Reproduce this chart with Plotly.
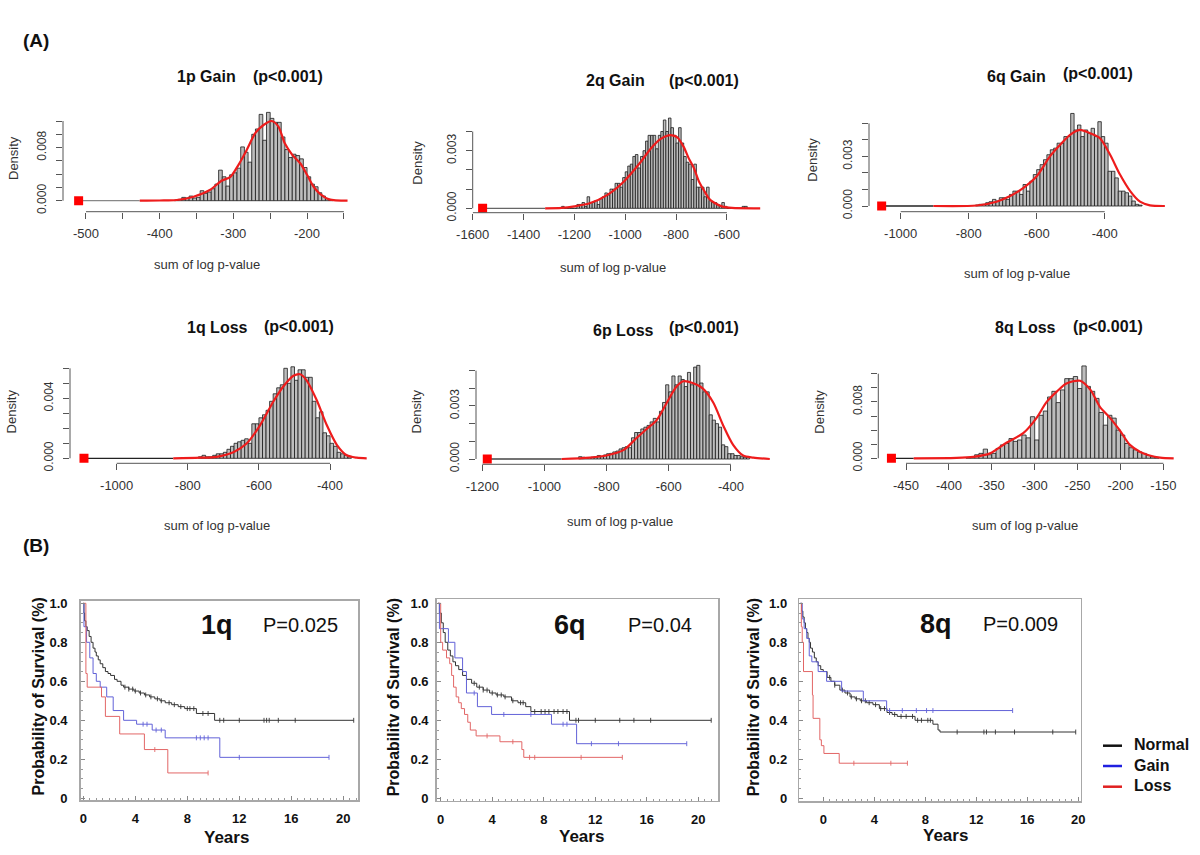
import numpy as np
import plotly.graph_objects as go

W, H = 1200, 855
FONT = "Liberation Sans, Arial, sans-serif"


def fx(p):
    return p / W


def fy(p):
    return 1 - p / H


# ===================== (A) permutation histograms : data =====================
# 1p Gain
g1p_start, g1p_width = -380, 5
g1p_density = [0.0001, 0.0002, 0.0005, 0.0004, 0.0007, 0.0004, 0.0005, 0.0015, 0.0011, 0.0013,
               0.0018, 0.0025, 0.0046, 0.0036, 0.0022, 0.0039, 0.0042, 0.0049, 0.0081, 0.0073,
               0.0058, 0.0100, 0.0108, 0.0130, 0.0091, 0.0133, 0.0124, 0.0118, 0.0118, 0.0096,
               0.0077, 0.0065, 0.0070, 0.0068, 0.0063, 0.0050, 0.0036, 0.0025, 0.0021, 0.0012,
               0.0007, 0.0003, 0.0001]
g1p_kde_x = [-427, -400, -377, -354, -332, -316, -304, -293, -282, -270, -259, -248, -239, -230,
             -220, -209, -200, -191, -182, -170, -145]
g1p_kde_y = [0, 0.00003, 0.0001, 0.0006, 0.0016, 0.0030, 0.0036, 0.0054, 0.0076, 0.0102, 0.0114,
             0.0120, 0.0112, 0.0086, 0.0069, 0.0056, 0.0039, 0.0021, 0.0010, 0.0002, 0]
g1p_observed = -510
g1p_xticks = [-500, -450, -400, -350, -300, -250, -200, -150]
g1p_xlabels = ["-500", "", "-400", "", "-300", "", "-200", ""]
g1p_yticks = [0, 0.002, 0.004, 0.006, 0.008, 0.010, 0.012]
g1p_ylabels = ["0.000", "", "", "", "0.008", "", ""]

# 2q Gain
g2q_start, g2q_width = -1250, 10
g2q_density = [0.0001, 0, 0, 0, 0, 0, 0.0002, 0.0002, 0.0003, 0.0001,
               0.0006, 0.0003, 0.0003, 0.0004, 0.0002, 0.0005, 0.0006, 0.0008, 0.0007, 0.0010,
               0.0010, 0.0013, 0.0013, 0.0011, 0.0016, 0.0019, 0.0022, 0.0023, 0.0027, 0.0028,
               0.0021, 0.0027, 0.0030, 0.0035, 0.0038, 0.0038, 0.0038, 0.0031, 0.0038, 0.0040,
               0.0046, 0.0040, 0.0047, 0.0042, 0.0038, 0.0034, 0.0042, 0.0034, 0.0027, 0.0024,
               0.0023, 0.0015, 0.0023, 0.0011, 0.0011, 0.0011, 0.0006, 0.0011, 0.0004, 0.0003,
               0.0003, 0.0002, 0.00015, 0.0003, 0.0001, 0, 0, 0, 0, 0,
               0, 0.0001, 0.0001]
g2q_kde_x = [-1315, -1250, -1200, -1140, -1070, -1005, -940, -900, -862, -830, -815, -795, -770,
             -750, -730, -710, -691, -670, -651, -620, -580, -469]
g2q_kde_y = [0, 0.00002, 0.0001, 0.00026, 0.0007, 0.0014, 0.0024, 0.0031, 0.0036, 0.0038, 0.0038,
             0.0037, 0.0032, 0.0026, 0.0021, 0.0014, 0.00095, 0.0005, 0.0003, 0.0001, 0.00002, 0]
g2q_observed = -1561
g2q_xticks = [-1600, -1400, -1200, -1000, -800, -600]
g2q_xlabels = ["-1600", "-1400", "-1200", "-1000", "-800", "-600"]
g2q_yticks = [0, 0.001, 0.002, 0.003, 0.004]
g2q_ylabels = ["0.000", "", "", "0.003", ""]

# 6q Gain
g6q_start, g6q_width = -780, 10
g6q_density = [0.00006, 0.0001, 0.0001, 0.0002, 0.00026, 0.0004, 0.0003, 0.0005, 0.0005, 0.0004,
               0.0007, 0.0009, 0.0009, 0.0007, 0.0013, 0.0009, 0.0015, 0.0019, 0.0022, 0.0025,
               0.0028, 0.0031, 0.0034, 0.0035, 0.0038, 0.0038, 0.0042, 0.0042, 0.0056, 0.0046,
               0.0049, 0.0042, 0.0046, 0.0044, 0.0047, 0.0042, 0.0051, 0.0042, 0.0038, 0.0021,
               0.0021, 0.0017, 0.0009, 0.0009, 0.0008, 0.0006, 0.0003, 0.0001, 0.00005]
g6q_kde_x = [-904, -776, -718, -678, -639, -600, -561, -531, -502, -473, -443, -414, -384, -355,
             -325, -296, -267, -223]
g6q_kde_y = [0, 0.00003, 0.00026, 0.0006, 0.0011, 0.0018, 0.0030, 0.0037, 0.0043, 0.0046, 0.0044,
             0.0041, 0.0031, 0.0019, 0.0009, 0.00026, 0.00004, 0]
g6q_observed = -1056
g6q_xticks = [-1000, -800, -600, -400]
g6q_xlabels = ["-1000", "-800", "-600", "-400"]
g6q_yticks = [0, 0.001, 0.002, 0.003, 0.004, 0.005]
g6q_ylabels = ["0.000", "", "", "0.003", "", ""]

# 1q Loss
l1q_start, l1q_width = -770, 10
l1q_density = [0.0001, 0.0002, 0.0001, 0.0001, 0.0002, 0.0003, 0.0003, 0.0004, 0.0006, 0.0008,
               0.0010, 0.0011, 0.0012, 0.0013, 0.0010, 0.0023, 0.0023, 0.0027, 0.0029, 0.0032,
               0.0038, 0.0043, 0.0047, 0.0049, 0.0060, 0.0050, 0.0061, 0.0052, 0.0059, 0.0059,
               0.0054, 0.0054, 0.0038, 0.0027, 0.0031, 0.0017, 0.0015, 0.0010, 0.0008, 0.0004,
               0.0003, 0.0002, 0.0001]
l1q_kde_x = [-841, -766, -719, -672, -634, -597, -559, -531, -503, -484, -466, -438, -409, -381,
             -353, -325, -297]
l1q_kde_y = [0, 0.00004, 0.0001, 0.0004, 0.0010, 0.0022, 0.0038, 0.0048, 0.0055, 0.0056, 0.0052,
             0.0039, 0.0022, 0.0009, 0.0002, 0.00004, 0]
l1q_observed = -1092
l1q_xticks = [-1000, -800, -600, -400]
l1q_xlabels = ["-1000", "-800", "-600", "-400"]
l1q_yticks = [0, 0.001, 0.002, 0.003, 0.004, 0.005, 0.006]
l1q_ylabels = ["0.000", "", "", "", "0.004", "", ""]

# 6p Loss
l6p_start, l6p_width = -890, 10
l6p_density = [0.00013, 0.0001, 0.00008, 0.00008, 0.0001, 0.00013, 0.0002, 0.00013, 0.00023, 0.0003,
               0.00032, 0.0004, 0.00045, 0.00057, 0.00064, 0.0007, 0.00064, 0.0012, 0.0015, 0.0015,
               0.0017, 0.0018, 0.0019, 0.0021, 0.0023, 0.0021, 0.0027, 0.0032, 0.0042, 0.0038,
               0.0047, 0.0042, 0.0047, 0.0045, 0.0041, 0.0049, 0.0042, 0.0052, 0.0053, 0.0043,
               0.0038, 0.0038, 0.0025, 0.0022, 0.0020, 0.0018, 0.0008, 0.0007, 0.0003, 0.0003,
               0.0002, 0.0002, 0.00013, 0.0001, 0.0001]
l6p_kde_x = [-945, -854, -800, -746, -703, -671, -639, -606, -575, -553, -523, -491, -457, -425,
             -393, -361, -328, -275]
l6p_kde_y = [0, 0.00008, 0.0002, 0.0005, 0.0012, 0.0017, 0.0022, 0.0032, 0.0041, 0.0044, 0.0043,
             0.0040, 0.0032, 0.0019, 0.0008, 0.0002, 0.00008, 0]
l6p_observed = -1184
l6p_xticks = [-1200, -1000, -800, -600, -400]
l6p_xlabels = ["-1200", "-1000", "-800", "-600", "-400"]
l6p_yticks = [0, 0.001, 0.002, 0.003, 0.004, 0.005]
l6p_ylabels = ["0.000", "", "", "0.003", "", ""]

# 8q Loss
l8q_start, l8q_width = -380, 5
l8q_density = [0.0001, 0.0002, 0.0005, 0.0007, 0.0013, 0.0005, 0.0007, 0.0014, 0.0019, 0.0021,
               0.0028, 0.0024, 0.0026, 0.0033, 0.0029, 0.0059, 0.0026, 0.0061, 0.0067, 0.0087,
               0.0095, 0.0079, 0.0097, 0.0113, 0.0113, 0.0116, 0.0099, 0.0131, 0.0102, 0.0095,
               0.0085, 0.0065, 0.0047, 0.0061, 0.0057, 0.0040, 0.0033, 0.0021, 0.0015, 0.0012,
               0.0009, 0.0007, 0.0004, 0.0002, 0.0001]
l8q_kde_x = [-441, -391, -371.5, -352, -333, -313, -298, -286, -274, -263, -247, -235, -224, -212,
             -201, -189, -177, -166, -154, -138]
l8q_kde_y = [0, 0.00005, 0.0002, 0.0007, 0.0022, 0.0036, 0.0057, 0.0080, 0.0095, 0.0106, 0.0110,
             0.0097, 0.0073, 0.0057, 0.0040, 0.0019, 0.0009, 0.0004, 0.0001, 0]
l8q_observed = -467
l8q_xticks = [-450, -400, -350, -300, -250, -200, -150]
l8q_xlabels = ["-450", "-400", "-350", "-300", "-250", "-200", "-150"]
l8q_yticks = [0, 0.002, 0.004, 0.006, 0.008, 0.010, 0.012]
l8q_ylabels = ["0.000", "", "", "", "0.008", "", ""]

hist_titles = ["1p Gain", "2q Gain", "6q Gain", "1q Loss", "6p Loss", "8q Loss"]
hist_pvals = ["(p<0.001)"] * 6

# ===================== (B) Kaplan-Meier curves : data =====================
# 1q
km1q_normal_t = [0, 0.05, 0.1, 0.2, 0.3, 0.45, 0.6, 0.75, 0.9, 1.0, 1.15, 1.3, 1.5, 1.7, 1.9, 2.1,
                 2.4, 2.6, 2.9, 3.1, 3.5, 3.9, 4.3, 4.7, 5.1, 5.5, 5.9, 6.3, 6.8, 7.3, 7.8, 8.7,
                 10.1, 20.8]
km1q_normal_s = [1.0, 0.95, 0.91, 0.88, 0.86, 0.83, 0.80, 0.77, 0.75, 0.73, 0.71, 0.69, 0.67, 0.65,
                 0.64, 0.63, 0.61, 0.60, 0.58, 0.57, 0.56, 0.55, 0.54, 0.53, 0.52, 0.51, 0.50, 0.49,
                 0.48, 0.47, 0.46, 0.435, 0.40, 0.40]
km1q_normal_cens = [3.2, 3.5, 3.8, 4.0, 4.4, 4.8, 5.2, 5.7, 6.0, 6.6, 7.0, 7.5, 8.0, 8.2, 8.5, 9.2,
                    9.6, 10.5, 10.8, 12.0, 13.9, 14.1, 14.3, 15.0, 16.3, 20.8]
km1q_gain_t = [0, 0.05, 0.25, 0.5, 0.75, 1.0, 1.3, 1.8, 2.3, 3.1, 4.1, 5.3, 6.3, 10.5, 18.9]
km1q_gain_s = [1.0, 0.88, 0.80, 0.72, 0.64, 0.60, 0.57, 0.52, 0.45, 0.40, 0.38, 0.35, 0.31, 0.21,
               0.21]
km1q_gain_cens = [4.6, 4.9, 5.6, 6.0, 8.7, 9.0, 9.3, 9.6, 12.0, 18.9]
km1q_loss_t = [0, 0.2, 0.3, 1.4, 1.7, 2.8, 4.7, 6.5, 9.6]
km1q_loss_s = [1.0, 0.64, 0.57, 0.52, 0.42, 0.33, 0.25, 0.13, 0.13]
km1q_loss_cens = [5.5, 9.6]

# 6q
km6q_normal_t = [-0.2, -0.1, 0.05, 0.2, 0.35, 0.55, 0.75, 0.95, 1.15, 1.4, 1.7, 2.0, 2.4, 2.8, 3.3,
                 3.8, 4.3, 4.9, 5.5, 6.0, 6.6, 7.0, 10.0, 21.0]
km6q_normal_s = [1.0, 0.95, 0.90, 0.85, 0.80, 0.76, 0.73, 0.70, 0.68, 0.66, 0.63, 0.61, 0.59, 0.57,
                 0.555, 0.54, 0.53, 0.52, 0.50, 0.49, 0.47, 0.445, 0.40, 0.40]
km6q_normal_cens = [2.6, 3.0, 3.3, 3.6, 4.0, 4.4, 4.7, 5.0, 5.6, 6.2, 6.4, 7.3, 7.8, 8.1, 8.4, 8.8,
                    9.1, 9.5, 9.8, 10.5, 10.7, 12.0, 13.9, 15.0, 16.3, 21.0]
km6q_gain_t = [-0.2, -0.1, 0.6, 1.1, 1.7, 2.0, 2.85, 3.95, 8.6, 10.55, 19.1]
km6q_gain_s = [1.0, 0.87, 0.80, 0.72, 0.65, 0.54, 0.47, 0.43, 0.38, 0.28, 0.28]
km6q_gain_cens = [2.6, 4.9, 7.0, 9.5, 9.8, 11.7, 13.8, 19.1]
km6q_loss_t = [-0.2, 0.0, 0.15, 0.45, 0.7, 0.85, 1.0, 1.2, 1.4, 1.6, 1.85, 2.1, 2.3, 2.75, 4.6,
               6.3, 6.45, 14.1]
km6q_loss_s = [1.0, 0.80, 0.76, 0.72, 0.69, 0.63, 0.57, 0.52, 0.49, 0.46, 0.43, 0.39, 0.35, 0.32,
               0.29, 0.25, 0.21, 0.21]
km6q_loss_cens = [3.6, 5.6, 6.9, 7.3, 10.9, 14.1]

# 8q
km8q_normal_t = [-1.78, -1.7, -1.6, -1.5, -1.4, -1.3, -1.2, -1.1, -1.0, -0.85, -0.7, -0.55, -0.4,
                 -0.2, 0.0, 0.3, 0.6, 0.9, 1.3, 1.7, 2.1, 2.5, 2.9, 3.4, 3.9, 4.4, 5.0, 5.4, 5.8,
                 7.2, 8.6, 9.0, 9.15, 19.8]
km8q_normal_s = [1.0, 0.96, 0.93, 0.90, 0.87, 0.85, 0.82, 0.80, 0.77, 0.75, 0.72, 0.70, 0.68, 0.66,
                 0.65, 0.62, 0.60, 0.58, 0.555, 0.54, 0.52, 0.51, 0.50, 0.49, 0.48, 0.46, 0.44,
                 0.43, 0.42, 0.40, 0.38, 0.35, 0.34, 0.34]
km8q_normal_cens = [0.5, 0.9, 1.5, 1.9, 2.2, 2.6, 3.0, 3.3, 3.6, 4.1, 4.5, 4.8, 5.2, 5.6, 6.1, 6.5,
                    7.0, 7.4, 7.7, 8.2, 8.4, 10.5, 12.6, 12.8, 13.5, 15.0, 18.0, 19.8]
km8q_gain_t = [-1.78, -1.65, -1.5, -1.3, -1.1, -0.9, -0.4, 0.26, 1.44, 3.14, 4.97, 14.85]
km8q_gain_s = [1.0, 0.92, 0.87, 0.82, 0.73, 0.70, 0.65, 0.60, 0.55, 0.50, 0.45, 0.45]
km8q_gain_cens = [5.2, 6.2, 7.3, 8.1, 8.6, 14.85]
km8q_loss_t = [-1.78, -1.72, -1.65, -1.55, -0.85, -0.8, -0.27, -0.15, 0.05, 1.25, 6.6]
km8q_loss_s = [1.0, 0.88, 0.80, 0.65, 0.53, 0.41, 0.30, 0.27, 0.23, 0.18, 0.18]
km8q_loss_cens = [2.4, 5.3, 6.6]

km_labels = ["1q", "6q", "8q"]
km_pvalues = ["P=0.025", "P=0.04", "P=0.009"]
km_ytitles = ["Probability of Survival (%)", "Probabilitv of Survival (%)",
              "Probabilitv of Survival (%)"]
km_xticks = [0, 4, 8, 12, 16, 20]
km_yticks = [0, 0.2, 0.4, 0.6, 0.8, 1.0]
km_ylabels = ["0", "0.2", "0.4", "0.6", "0.8", "1.0"]
group_names = ["Normal", "Gain", "Loss"]

# ===================== layout specs (pixels) =====================
hist_data = [
    (g1p_start, g1p_width, g1p_density, g1p_kde_x, g1p_kde_y, g1p_observed,
     g1p_xticks, g1p_xlabels, g1p_yticks, g1p_ylabels),
    (g2q_start, g2q_width, g2q_density, g2q_kde_x, g2q_kde_y, g2q_observed,
     g2q_xticks, g2q_xlabels, g2q_yticks, g2q_ylabels),
    (g6q_start, g6q_width, g6q_density, g6q_kde_x, g6q_kde_y, g6q_observed,
     g6q_xticks, g6q_xlabels, g6q_yticks, g6q_ylabels),
    (l1q_start, l1q_width, l1q_density, l1q_kde_x, l1q_kde_y, l1q_observed,
     l1q_xticks, l1q_xlabels, l1q_yticks, l1q_ylabels),
    (l6p_start, l6p_width, l6p_density, l6p_kde_x, l6p_kde_y, l6p_observed,
     l6p_xticks, l6p_xlabels, l6p_yticks, l6p_ylabels),
    (l8q_start, l8q_width, l8q_density, l8q_kde_x, l8q_kde_y, l8q_observed,
     l8q_xticks, l8q_xlabels, l8q_yticks, l8q_ylabels),
]
hist_geom = [
    dict(dx=(63, 351), dy=(108, 211.7), xr=(-531.2, -140.3), yr=(-0.001657, 0.01396),
         title=(207, 77), pv=(287.5, 77), dens=(13, 158), xl=(207, 264), base="#888888"),
    dict(dx=(472.7, 763), dy=(112, 212.7), xr=(-1600, -458), yr=(-0.000229, 0.005016),
         title=(615, 81), pv=(703.5, 80), dens=(416.7, 163), xl=(613, 268), base="#666666"),
    dict(dx=(869, 1168), dy=(110, 211.7), xr=(-1093.2, -213.8), yr=(-0.000345, 0.005808),
         title=(1016.5, 76), pv=(1097.5, 74), dens=(811.7, 160), xl=(1016.7, 273), base="#222222"),
    dict(dx=(70, 370), dy=(362, 463.3), xr=(-1131.3, -287.7), yr=(-0.000333, 0.00642),
         title=(217.5, 328), pv=(299, 326), dens=(11.7, 411.7), xl=(216.7, 525), base="#222222"),
    dict(dx=(476, 773), dy=(362, 464.3), xr=(-1220.3, -264.7), yr=(-0.0003, 0.00549),
         title=(623.5, 330), pv=(703.5, 327), dens=(416.7, 411.7), xl=(620, 521.7), base="#444444"),
    dict(dx=(878.3, 1176), dy=(362, 463.3), xr=(-482.3, -135.3), yr=(-0.00071, 0.01366),
         title=(1025.5, 328), pv=(1107.5, 326), dens=(820, 411.7), xl=(1025, 525), base="#222222"),
]

km_data = [
    [(km1q_normal_t, km1q_normal_s, km1q_normal_cens),
     (km1q_gain_t, km1q_gain_s, km1q_gain_cens),
     (km1q_loss_t, km1q_loss_s, km1q_loss_cens)],
    [(km6q_normal_t, km6q_normal_s, km6q_normal_cens),
     (km6q_gain_t, km6q_gain_s, km6q_gain_cens),
     (km6q_loss_t, km6q_loss_s, km6q_loss_cens)],
    [(km8q_normal_t, km8q_normal_s, km8q_normal_cens),
     (km8q_gain_t, km8q_gain_s, km8q_gain_cens),
     (km8q_loss_t, km8q_loss_s, km8q_loss_cens)],
]
km_geom = [
    dict(dx=(80.7, 358), dy=(600.7, 800), xr=(-0.2, 21.13), yr=(-0.0087, 1.0133),
         lab=(216.5, 625), pv=(300.5, 625), yt=(37.5, 697), xt=(226, 837), ystand=9),
    dict(dx=(436.7, 718.3), dy=(599.3, 800.7), xr=(-0.31, 21.55), yr=(-0.0123, 1.0205),
         lab=(570, 625), pv=(660, 625), yt=(393.3, 697), xt=(581, 836.5), ystand=4),
    dict(dx=(799.3, 1080.7), dy=(599.3, 801), xr=(-1.88, 20.19), yr=(-0.0138, 1.0205),
         lab=(936, 624), pv=(1020.5, 624), yt=(753.3, 697), xt=(945, 835), ystand=8),
]
curve_colors = ["#333333", "#6262d8", "#e26666"]
legend_colors = ["#111111", "#2020e0", "#e02020"]

fig = go.Figure()
layout = dict(template="none", width=W, height=H, autosize=False,
              margin=dict(l=0, r=0, t=0, b=0, pad=0),
              paper_bgcolor="white", plot_bgcolor="white", showlegend=False,
              hovermode=False, font=dict(family=FONT, color="#222"))
shapes = []
annotations = []


def ann(text, x, y, size, bold=False, angle=0, color="#111", xanchor="center"):
    annotations.append(dict(
        text=text, x=fx(x), y=fy(y), xref="paper", yref="paper", showarrow=False,
        xanchor=xanchor, yanchor="middle", textangle=angle,
        font=dict(family=FONT, size=size, color=color, weight="bold" if bold else "normal")))


# ---------- histograms ----------
for i, (data, g) in enumerate(zip(hist_data, hist_geom)):
    start, bw, dens, kx, ky, obs, xt, xtl, yt, ytl = data
    k = i + 1
    xa, ya = ("x" if k == 1 else f"x{k}"), ("y" if k == 1 else f"y{k}")
    centers = start + bw * (np.arange(len(dens)) + 0.5)
    fig.add_trace(go.Bar(x=centers, y=dens, width=bw, xaxis=xa, yaxis=ya,
                         marker=dict(color="#bdbdbd", line=dict(color="#1a1a1a", width=0.8))))
    fig.add_trace(go.Scatter(x=[obs, kx[0]], y=[0, 0], mode="lines", xaxis=xa, yaxis=ya,
                             line=dict(color=g["base"], width=1.3)))
    fig.add_trace(go.Scatter(x=kx, y=ky, mode="lines", xaxis=xa, yaxis=ya,
                             line=dict(color="#ee1c1c", width=2.2, shape="spline", smoothing=0.8)))
    fig.add_trace(go.Scatter(x=[obs], y=[0], mode="markers", xaxis=xa, yaxis=ya,
                             marker=dict(symbol="square", size=9, color="#ff0000")))
    axkey = "" if k == 1 else str(k)
    layout["xaxis" + axkey] = dict(
        domain=[fx(g["dx"][0]), fx(g["dx"][1])], range=list(g["xr"]), anchor=ya,
        automargin=False, fixedrange=True,
        showgrid=False, zeroline=False, showline=False, ticks="outside", ticklen=6,
        tickcolor="#555", tickwidth=1, tickmode="array", tickvals=xt, ticktext=xtl,
        tickfont=dict(family=FONT, size=13, color="#333"), ticklabelstandoff=4)
    layout["yaxis" + axkey] = dict(
        domain=[fy(g["dy"][1]), fy(g["dy"][0])], range=list(g["yr"]), anchor=xa,
        automargin=False, fixedrange=True,
        showgrid=False, zeroline=False, showline=False, ticks="outside", ticklen=6,
        tickcolor="#555", tickwidth=1, tickmode="array", tickvals=yt, ticktext=ytl,
        tickangle=-90, tickfont=dict(family=FONT, size=12, color="#333"), ticklabelstandoff=5)
    shapes.append(dict(type="line", xref=xa, yref=ya + " domain", x0=xt[0], x1=xt[-1], y0=0, y1=0,
                       line=dict(color="#555", width=1)))
    shapes.append(dict(type="line", xref=xa + " domain", yref=ya, x0=0, x1=0, y0=yt[0], y1=yt[-1],
                       line=dict(color="#555", width=1)))
    ann("<b>" + hist_titles[i] + "</b>", g["title"][0], g["title"][1], 16)
    ann("<b>" + hist_pvals[i] + "</b>", g["pv"][0], g["pv"][1], 16)
    ann("Density", g["dens"][0], g["dens"][1], 13, angle=-90, color="#333")
    ann("sum of log p-value", g["xl"][0], g["xl"][1], 13, color="#333")


def surv_at(times, surv, t):
    idx = np.searchsorted(np.asarray(times), t, side="right") - 1
    return np.asarray(surv)[np.clip(idx, 0, len(surv) - 1)]


# ---------- Kaplan-Meier panels ----------
for j, (panel, g) in enumerate(zip(km_data, km_geom)):
    k = 7 + j
    xa, ya = f"x{k}", f"y{k}"
    for (t, s, c), col in zip(panel, curve_colors):
        fig.add_trace(go.Scatter(x=t, y=s, mode="lines", xaxis=xa, yaxis=ya,
                                 line=dict(color=col, width=1, shape="hv")))
        fig.add_trace(go.Scatter(x=c, y=surv_at(t, s, c), mode="markers", xaxis=xa, yaxis=ya,
                                 marker=dict(symbol="line-ns", size=3.5,
                                             line=dict(color=col, width=0.9))))
    layout[f"xaxis{k}"] = dict(
        domain=[fx(g["dx"][0]), fx(g["dx"][1])], range=list(g["xr"]), anchor=ya,
        automargin=False, fixedrange=True,
        showgrid=False, zeroline=False, showline=True, mirror=True, linecolor="#a8a8a8",
        linewidth=1.5, ticks="inside", ticklen=4, tickcolor="#888", tickmode="array",
        tickvals=km_xticks, ticktext=[str(v) for v in km_xticks],
        tickfont=dict(family=FONT, size=13, color="#111", weight="bold"), ticklabelstandoff=6,
        minor=dict(ticks="inside", ticklen=2, tickcolor="#999",
                   tickvals=list(np.arange(0, 21.01, 0.5))))
    layout[f"yaxis{k}"] = dict(
        domain=[fy(g["dy"][1]), fy(g["dy"][0])], range=list(g["yr"]), anchor=xa,
        automargin=False, fixedrange=True,
        showgrid=False, zeroline=False, showline=True, mirror=True, linecolor="#a8a8a8",
        linewidth=1.5, ticks="inside", ticklen=4, tickcolor="#888", tickmode="array",
        tickvals=km_yticks, ticktext=km_ylabels,
        tickfont=dict(family=FONT, size=13, color="#111", weight="bold"),
        ticklabelstandoff=g["ystand"],
        minor=dict(ticks="inside", ticklen=2, tickcolor="#999",
                   tickvals=list(np.arange(0, 1.001, 0.05))))
    ann("<b>" + km_labels[j] + "</b>", g["lab"][0], g["lab"][1], 27)
    ann(km_pvalues[j], g["pv"][0], g["pv"][1], 20)
    ann("<b>" + km_ytitles[j] + "</b>", g["yt"][0], g["yt"][1], 16, angle=-90)
    ann("<b>Years</b>", g["xt"][0], g["xt"][1], 17)

# legend (drawn manually, short line samples)
for name, col, ly in zip(group_names, legend_colors, [745.7, 766, 786.7]):
    shapes.append(dict(type="line", xref="paper", yref="paper", x0=fx(1103), x1=fx(1122),
                       y0=fy(ly), y1=fy(ly), line=dict(color=col, width=2.5)))
    ann("<b>" + name + "</b>", 1132, ly - 1, 16, xanchor="left")

ann("<b>(A)</b>", 36, 40, 19)
ann("<b>(B)</b>", 36, 545, 19)

layout["shapes"] = shapes
layout["annotations"] = annotations
fig.update_layout(**layout)
fig.write_html("out.html", config={"responsive": False, "displayModeBar": False,
                                   "staticPlot": True},
               post_script="document.body.style.margin='0px';document.body.style.padding='0px';")
